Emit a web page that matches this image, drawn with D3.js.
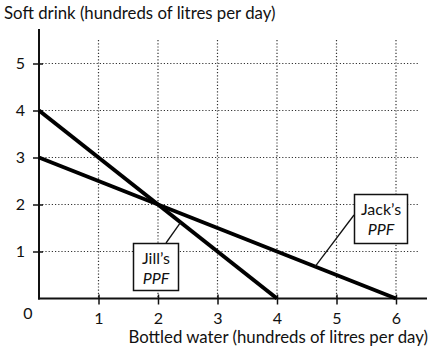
<!DOCTYPE html>
<html><head><meta charset="utf-8">
<script src="https://cdn.jsdelivr.net/npm/d3@7"></script>
<style>body{margin:0;background:#fff}svg{display:block}text{font-family:Lato,"Open Sans",sans-serif;fill:#111}</style>
</head><body><svg width="434" height="352"></svg>
<script>
const xTicks = [1, 2, 3, 4, 5, 6];
const yTicks = [1, 2, 3, 4, 5];
const jillPPF = [{x: 0, y: 4}, {x: 4, y: 0}];
const jackPPF = [{x: 0, y: 3}, {x: 6, y: 0}];
const xTitle = "Bottled water (hundreds of litres per day)";
const yTitle = "Soft drink (hundreds of litres per day)";

const svg = d3.select("svg");
const x = d3.scaleLinear().domain([0, 6]).range([39, 396]);
const y = d3.scaleLinear().domain([0, 5]).range([298.5, 63.5]);

const grid = svg.append("g").attr("stroke", "#333").attr("stroke-width", 1.2).attr("stroke-dasharray", "1.2,2");
grid.selectAll(".v").data(xTicks).join("line")
  .attr("x1", d => x(d)).attr("x2", d => x(d)).attr("y1", 40).attr("y2", y(0));
grid.selectAll(".h").data(yTicks).join("line")
  .attr("y1", d => y(d)).attr("y2", d => y(d)).attr("x1", x(0)).attr("x2", 419);

// axes
svg.append("line").attr("x1", x(0)).attr("x2", x(0)).attr("y1", 29).attr("y2", y(0) + 1).attr("stroke", "#111").attr("stroke-width", 2);
svg.append("line").attr("x1", x(0) - 1).attr("x2", 427).attr("y1", y(0)).attr("y2", y(0)).attr("stroke", "#111").attr("stroke-width", 2);

const xAxis = svg.append("g").attr("transform", `translate(0,${y(0)})`)
  .call(d3.axisBottom(x).tickValues(xTicks).tickFormat(d3.format("d")).tickSize(6).tickPadding(8));
xAxis.select(".domain").remove();
xAxis.selectAll(".tick line").attr("y1", -4).attr("stroke", "#111").attr("stroke-width", 1.5);
xAxis.selectAll(".tick text").attr("font-size", 16).attr("font-family", "Lato").attr("fill", "#111");

const yAxis = svg.append("g").attr("transform", `translate(${x(0)},0)`)
  .call(d3.axisLeft(y).tickValues(yTicks).tickFormat(d3.format("d")).tickSize(6).tickPadding(8));
yAxis.select(".domain").remove();
yAxis.selectAll(".tick line").attr("x1", 4).attr("stroke", "#111").attr("stroke-width", 1.5);
yAxis.selectAll(".tick text").attr("font-size", 16).attr("font-family", "Lato").attr("fill", "#111");

svg.append("text").attr("x", 28).attr("y", 319).attr("text-anchor", "middle").attr("font-size", 16).text("0");

const line = d3.line().x(d => x(d.x)).y(d => y(d.y));
[jillPPF, jackPPF].forEach(data => {
  svg.append("path").datum(data).attr("d", line).attr("fill", "none")
    .attr("stroke", "#000").attr("stroke-width", 4);
});

// leaders
svg.append("line").attr("x1", 166).attr("y1", 243).attr("x2", x(2.38)).attr("y2", y(1.62)).attr("stroke", "#111").attr("stroke-width", 1.3);
svg.append("line").attr("x1", 354).attr("y1", 215).attr("x2", x(4.64)).attr("y2", y(0.68)).attr("stroke", "#111").attr("stroke-width", 1.3);

// label boxes
function box(x0, y0, w, h, l1, l2) {
  svg.append("rect").attr("x", x0).attr("y", y0).attr("width", w).attr("height", h)
    .attr("fill", "#fff").attr("stroke", "#111").attr("stroke-width", 1.5);
  svg.append("text").attr("x", x0 + w / 2).attr("y", y0 + 20).attr("text-anchor", "middle").attr("font-size", 16).text(l1);
  svg.append("text").attr("x", x0 + w / 2).attr("y", y0 + 40).attr("text-anchor", "middle").attr("font-size", 16).attr("font-style", "italic").text(l2);
}
box(133.5, 243.5, 45, 47, "Jill\u2019s", "PPF");
box(354.5, 194.5, 53, 49, "Jack\u2019s", "PPF");

svg.append("text").attr("x", 4).attr("y", 19).attr("font-size", 16.8).text(yTitle);
svg.append("text").attr("x", 428).attr("y", 343).attr("text-anchor", "end").attr("font-size", 16.8).text(xTitle);
</script></body></html>
